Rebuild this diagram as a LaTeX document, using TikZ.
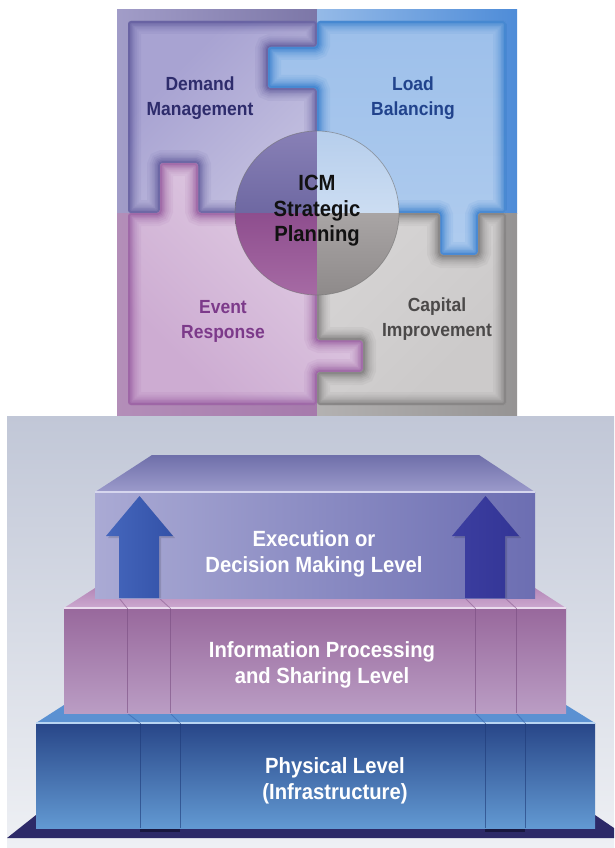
\documentclass[tikz,border=0pt]{standalone}
\usepackage{fontspec}
\setmainfont{Liberation Sans}
\newfontfamily\narrowsans[FakeStretch=0.92]{Liberation Sans}
\usepackage{xcolor}

\definecolor{tlback}{HTML}{8A84BA}
\definecolor{trback}{HTML}{4E8CD8}
\definecolor{blback}{HTML}{A67AAC}
\definecolor{brback}{HTML}{A6A4A4}
\definecolor{tlborder}{HTML}{4E4890}
\definecolor{trborder}{HTML}{1F6FC8}
\definecolor{blborder}{HTML}{8A4894}
\definecolor{brborder}{HTML}{6A6868}
\definecolor{tlhi}{HTML}{A8A3D2}
\definecolor{tllo}{HTML}{EEEDF5}
\definecolor{trhi}{HTML}{9CBFEA}
\definecolor{trlo}{HTML}{BCD4F1}
\definecolor{blhi}{HTML}{F4EEF5}
\definecolor{bllo}{HTML}{CDACD2}
\definecolor{brhi}{HTML}{E6E4E4}
\definecolor{brlo}{HTML}{CCCACA}
\definecolor{disctla}{HTML}{8880B6}
\definecolor{disctlb}{HTML}{6E68A2}
\definecolor{disctra}{HTML}{B6CEEC}
\definecolor{disctrb}{HTML}{CCDDF2}
\definecolor{discbla}{HTML}{8E4E8E}
\definecolor{discblb}{HTML}{A66AA4}
\definecolor{discbra}{HTML}{A9A5A5}
\definecolor{discbrb}{HTML}{8E8A8A}
\definecolor{demandtxt}{HTML}{2E2C6C}
\definecolor{loadtxt}{HTML}{21438C}
\definecolor{icmtxt}{HTML}{111111}
\definecolor{eventtxt}{HTML}{7C3A8A}
\definecolor{capitaltxt}{HTML}{4B4949}
\definecolor{bgtop}{HTML}{C1C7D7}
\definecolor{bgbottom}{HTML}{EEF0F4}
\definecolor{baseplate}{HTML}{2D2A68}
\definecolor{baseshadow}{HTML}{19173F}
\definecolor{phystop}{HTML}{5B91D2}
\definecolor{physa}{HTML}{284688}
\definecolor{physb}{HTML}{6299D2}
\definecolor{physhi}{HTML}{B8D4F2}
\definecolor{physseam}{HTML}{1E3A78}
\definecolor{physseamtop}{HTML}{3A66AE}
\definecolor{infotopa}{HTML}{B488B8}
\definecolor{infotopb}{HTML}{CCA8CF}
\definecolor{infoa}{HTML}{98689C}
\definecolor{infob}{HTML}{BA9DC4}
\definecolor{infohi}{HTML}{EADCEE}
\definecolor{infoseam}{HTML}{7A4E82}
\definecolor{infoseamtop}{HTML}{8E6294}
\definecolor{exectopa}{HTML}{6F6FAA}
\definecolor{exectopb}{HTML}{9C9BCB}
\definecolor{execa}{HTML}{AAAAD4}
\definecolor{execb}{HTML}{6C6EB2}
\definecolor{exechi}{HTML}{D6D6EE}
\definecolor{arrowla}{HTML}{4566BC}
\definecolor{arrowlb}{HTML}{3352A8}
\definecolor{arrowra}{HTML}{3C3EA0}
\definecolor{arrowrb}{HTML}{333596}

\newcommand{\demandpiece}{(128,21) -- (317,21) -- (317,47) -- (268,47) -- (268,88) -- (317,88) -- (317,213) -- (198,213) -- (198,163) -- (160,163) -- (160,213) -- (128,213) -- cycle}
\newcommand{\loadpiece}{(317,21) -- (506,21) -- (506,213) -- (478,213) -- (478,255) -- (440,255) -- (440,213) -- (317,213) -- (317,88) -- (268,88) -- (268,47) -- (317,47) -- cycle}
\newcommand{\eventpiece}{(128,213) -- (160,213) -- (160,163) -- (198,163) -- (198,213) -- (317,213) -- (317,340) -- (363,340) -- (363,372) -- (317,372) -- (317,405) -- (128,405) -- cycle}
\newcommand{\capitalpiece}{(317,213) -- (440,213) -- (440,255) -- (478,255) -- (478,213) -- (506,213) -- (506,405) -- (317,405) -- (317,372) -- (363,372) -- (363,340) -- (317,340) -- cycle}

% piece: path, fill options, border colour
\newcommand{\drawpiece}[3]{%
  \begin{scope}
    \clip[rounded corners=3pt] #1;
    \shade[#2] (117,10) rectangle (517,416);
    \foreach \w/\o in {26/.07, 21/.08, 17/.10, 13/.12, 10/.15, 7/.2, 4/.3} {
      \draw[rounded corners=3pt, line width=\w pt, #3, opacity=\o] #1;
    }
  \end{scope}}

\begin{document}
\begin{tikzpicture}[
  x=1pt, y=-1pt,
  piecetext/.style={font=\narrowsans\bfseries\fontsize{19}{25}\selectfont, align=center, inner sep=0pt},
  lvltext/.style={font=\narrowsans\bfseries\fontsize{22}{26.5}\selectfont, align=center, inner sep=0pt, text=white},
  seam/.style={line width=0.9pt, opacity=.6},
  upblock/.style={draw=none}
]
  \useasboundingbox (0,0) rectangle (614,848);
  \fill[white] (0,0) rectangle (614,848);

  % puzzle square
  \shade[left color=tlback!80!white, right color=tlback!90!black] (117,10) rectangle (317,213);
  \shade[left color=trback!60!white, right color=trback] (317,10) rectangle (517,213);
  \shade[left color=blback!85!white, right color=blback] (117,213) rectangle (317,416);
  \shade[left color=brback!85!white, right color=brback!90!black] (317,213) rectangle (517,416);

  \drawpiece{\demandpiece}{top color=tlhi, bottom color=tllo, shading angle=45}{tlborder}
  \drawpiece{\loadpiece}{top color=trhi, bottom color=trlo}{trborder}
  \drawpiece{\eventpiece}{top color=blhi, bottom color=bllo, shading angle=-45}{blborder}
  \drawpiece{\capitalpiece}{top color=brhi, bottom color=brlo, shading angle=45}{brborder}

  % centre disc
  \begin{scope}
    \clip (317,213) circle (82pt);
    \shade[top color=disctla, bottom color=disctlb] (235,131) rectangle (317,213);
    \shade[top color=disctra, bottom color=disctrb] (317,131) rectangle (399,213);
    \shade[top color=discbla, bottom color=discblb] (235,213) rectangle (317,295);
    \shade[top color=discbra, bottom color=discbrb] (317,213) rectangle (399,295);
  \end{scope}
  \draw[black!55, line width=0.7pt, opacity=.6] (317,213) circle (82pt);

  \node[piecetext, text=demandtxt] (demand) at (200,98) {Demand\\Management};
  \node[piecetext, text=loadtxt] (load) at (413,98) {Load\\Balancing};
  \node[piecetext, text=icmtxt, font=\narrowsans\bfseries\fontsize{22}{25.5}\selectfont] (icm) at (317,211) {ICM\\Strategic\\Planning};
  \node[piecetext, text=eventtxt] (event) at (223,321) {Event\\Response};
  \node[piecetext, text=capitaltxt] (capital) at (437,319) {Capital\\Improvement};

  % level stack
  \shade[top color=bgtop, bottom color=bgbottom] (7,416) rectangle (614,848);
  \fill[baseplate] (7,838) -- (614,838) -- (614,828) -- (595,815) -- (36,815) -- cycle;
  \fill[baseshadow] (140,826) rectangle (180,832);
  \fill[baseshadow] (485,826) rectangle (525,832);

  % physical level
  \fill[phystop] (36,723) -- (595,723) -- (566,705) -- (64,705) -- cycle;
  \shade[top color=physa, bottom color=physb] (36,723) rectangle (595,828);
  \draw[physhi, line width=1.2pt] (36,723) -- (595,723);
  \foreach \sx/\tx in {127/140, 170/180, 475/485, 516/525} {
    \draw[seam, physseam] (\tx,723) -- (\tx,828);
    \draw[seam, physseamtop] (\sx,713) -- (\tx,723);
  }

  % information level
  \shade[top color=infotopa, bottom color=infotopb] (64,608) -- (566,608) -- (535,588) -- (95,588) -- cycle;
  \shade[top color=infoa, bottom color=infob] (64,608) rectangle (566,713);
  \draw[infohi, line width=1.2pt] (64,608) -- (566,608);
  \foreach \sx/\tx in {119/127, 159/170, 465/475, 505/516} {
    \draw[seam, infoseam] (\tx,608) -- (\tx,713);
    \draw[seam, infoseamtop] (\sx,598) -- (\tx,608);
  }

  % execution level
  \shade[top color=exectopa, bottom color=exectopb] (95,492) -- (535,492) -- (479,455) -- (152,455) -- cycle;
  \shade[left color=execa, right color=execb] (95,492) rectangle (535,598);
  \draw[exechi, line width=1.2pt] (95,492) -- (535,492);

  \fill[black, opacity=.12] (121,598) -- (121,538) -- (108,538) -- (141,498) -- (175,538) -- (161,538) -- (161,598) -- cycle;
  \fill[black, opacity=.12] (467,598) -- (467,538) -- (454,538) -- (487,498) -- (521,538) -- (507,538) -- (507,598) -- cycle;
  \shade[upblock, left color=arrowla, right color=arrowlb] (119,598) -- (119,536) -- (106,536) -- (139.5,496) -- (173,536) -- (159,536) -- (159,598) -- cycle;
  \shade[upblock, left color=arrowra, right color=arrowrb] (465,598) -- (465,536) -- (452,536) -- (485.5,496) -- (519,536) -- (505,536) -- (505,598) -- cycle;

  \node[lvltext] (execution) at (314,554) {Execution or\\Decision Making Level};
  \node[lvltext] (information) at (322,665) {Information Processing\\and Sharing Level};
  \node[lvltext] (physical) at (335,781) {Physical Level\\(Infrastructure)};
\end{tikzpicture}
\end{document}
